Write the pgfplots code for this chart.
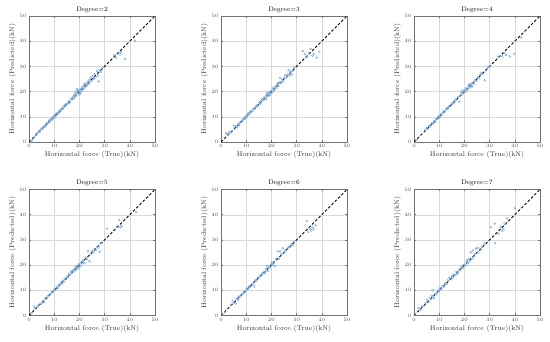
\documentclass[border=0pt]{standalone}
\usepackage{pgfplots}
\pgfplotsset{compat=1.18}
\definecolor{pt}{RGB}{110,160,210}
\pgfplotsset{
  deg/.style={
    scale only axis, width=126pt, height=126pt,
    xmin=0, xmax=50, ymin=0, ymax=50,
    xtick={0,10,...,50}, ytick={0,10,...,50},
    grid=major, grid style={black!15, line width=0.3pt},
    axis line style={black!55, line width=0.4pt},
    tick style={black!55, line width=0.4pt},
    tick align=inside, major tick length=2pt,
    ticklabel style={font=\fontsize{5.5}{6}\selectfont, text=black!70},
    xticklabel style={yshift=1pt},
    yticklabel style={xshift=1pt},
    label style={font=\fontsize{6.8}{7.5}\selectfont, text=black!80},
    title style={font=\fontsize{6.5}{7}\selectfont, yshift=-6pt},
    xlabel={Horizontal force (True)(kN)},
    ylabel={Horizontal force (Predicted)(kN)},
    xlabel style={yshift=3pt},
    ylabel style={yshift=-3pt},
  },
  pts/.style={only marks, mark=o, mark size=1.0pt, mark options={draw=pt, fill=pt, fill opacity=0.25, line width=0.35pt}},
  diag/.style={black, line width=1.0pt, dash pattern=on 2.6pt off 2pt},
}
\begin{document}
\begin{tikzpicture}
\useasboundingbox (0pt,0pt) rectangle (550pt,342pt);
% ---------------- Degree=2
\begin{axis}[deg, at={(29pt,200pt)}, anchor=south west, title={Degree=2}]
\addplot[pts] coordinates {(1.0,0.5)(1.5,1.2)(2.2,2.0)(2.8,3.0)(3.3,3.5)(3.9,4.2)(4.2,4.0)(4.6,4.9)(5.0,5.3)(5.4,5.1)(5.8,6.0)(6.1,6.4)(6.5,6.3)(6.9,7.1)(7.2,7.6)(7.5,7.3)(7.9,8.2)(8.3,8.0)(8.6,9.0)(9.0,9.2)(9.2,8.8)(9.5,9.9)(9.8,10.2)(10.1,9.7)(10.4,10.6)(10.8,11.0)(11.1,11.5)(11.5,11.2)(11.9,12.1)(12.3,12.6)(12.6,12.3)(13.0,13.3)(13.4,13.2)(13.8,14.1)(14.2,14.0)(14.6,14.9)(15.0,15.1)(15.5,15.3)(15.9,16.3)(16.3,16.0)(16.8,17.2)(17.2,16.9)(17.6,18.1)(18.0,18.6)(18.3,19.5)(18.6,18.2)(18.9,20.1)(19.2,19.4)(19.5,20.6)(19.7,18.9)(20.0,20.3)(20.2,19.6)(20.5,21.0)(20.8,20.2)(21.1,21.8)(21.4,20.9)(21.8,22.5)(22.2,21.7)(22.5,23.2)(22.9,22.4)(23.3,23.9)(23.6,23.0)(24.0,24.6)(24.4,25.5)(24.8,24.2)(25.2,26.1)(25.6,25.0)(26.0,26.8)(26.5,25.9)(27.0,28.1)(27.4,26.5)(27.6,24.0)(28.0,28.6)(28.5,27.8)(29.2,29.5)(33.8,34.5)(34.6,33.5)(35.5,35.4)(36.2,34.8)(36.6,35.8)(38.0,33.0)(42.0,40.2)(19.0,21.0)(20.3,19.0)(21.6,21.2)(17.9,17.4)(6.3,5.9)(8.1,8.6)(10.6,10.3)(12.1,11.8)(14.4,14.6)(16.1,15.6)(22.0,22.9)(23.9,23.4)(25.9,25.5)};
\addplot[diag] coordinates {(0,0)(50,50)};
\end{axis}
% ---------------- Degree=3
\begin{axis}[deg, at={(221pt,200pt)}, anchor=south west, title={Degree=3}]
\addplot[pts] coordinates {(2.0,3.5)(2.6,3.0)(3.2,3.9)(3.8,3.6)(4.5,4.3)(5.1,6.5)(5.5,5.2)(6.0,6.2)(6.4,5.9)(6.9,7.2)(7.3,7.0)(7.7,7.9)(8.2,8.1)(8.6,8.7)(9.0,9.3)(9.4,9.1)(9.8,10.1)(10.2,9.9)(10.5,10.8)(10.9,11.4)(11.3,11.0)(11.7,11.9)(12.1,12.4)(12.5,12.2)(12.9,13.1)(13.4,13.2)(13.8,14.0)(14.3,14.5)(14.7,14.3)(15.2,15.6)(15.6,15.2)(16.0,16.4)(16.4,17.0)(16.8,16.5)(17.2,17.7)(17.6,17.3)(18.0,18.6)(18.3,19.4)(18.7,18.2)(19.0,19.0)(19.4,18.6)(19.8,20.3)(20.1,19.6)(20.5,21.5)(20.8,20.2)(21.2,21.0)(21.6,22.0)(22.0,21.4)(22.4,22.9)(22.8,22.2)(23.2,23.6)(23.5,25.5)(23.9,23.4)(24.3,24.8)(24.7,24.1)(25.1,25.4)(25.5,26.5)(26.0,25.6)(26.4,26.7)(26.8,28.5)(27.2,26.4)(27.6,27.9)(28.0,26.8)(28.4,28.2)(29.0,29.4)(32.5,36.0)(33.4,34.8)(34.2,33.8)(35.0,35.2)(35.6,37.0)(36.3,34.3)(36.8,35.0)(38.0,33.5)(39.0,35.8)(17.9,17.0)(19.2,19.8)(21.0,20.6)(22.6,23.4)(7.0,6.6)(9.6,9.7)(11.5,11.7)(13.6,13.6)(15.4,15.5)(26.2,26.0)};
\addplot[diag] coordinates {(0,0)(50,50)};
\end{axis}
% ---------------- Degree=4
\begin{axis}[deg, at={(414pt,200pt)}, anchor=south west, title={Degree=4}]
\addplot[pts] coordinates {(1.0,0.8)(4.5,4.8)(5.0,5.5)(5.5,5.2)(6.0,6.3)(6.4,6.1)(6.8,7.0)(7.2,7.5)(7.6,7.3)(8.0,8.2)(8.4,8.0)(8.8,9.1)(9.2,9.0)(9.6,9.8)(10.0,10.3)(10.4,10.1)(10.8,11.1)(11.2,10.9)(11.6,11.8)(12.0,12.3)(12.4,12.1)(12.8,13.0)(13.2,13.5)(13.6,13.3)(14.0,14.2)(14.5,14.4)(15.0,15.3)(15.5,15.2)(16.0,16.1)(16.5,16.8)(17.0,16.7)(17.5,17.9)(18.0,16.0)(18.4,18.3)(18.8,19.5)(19.2,18.9)(19.6,19.8)(20.0,20.6)(20.4,20.0)(20.8,21.3)(21.2,20.8)(21.6,22.2)(22.0,21.6)(22.4,22.9)(22.8,22.3)(23.2,23.4)(23.7,23.1)(24.2,24.6)(24.7,24.3)(25.2,25.6)(25.7,25.3)(26.2,26.6)(26.7,27.3)(27.2,27.0)(28.0,24.5)(28.5,28.4)(29.5,29.8)(30.2,30.0)(33.5,33.8)(35.0,34.0)(35.8,35.3)(36.5,34.6)(38.0,34.0)(39.8,35.0)(42.5,41.5)(19.0,20.3)(21.9,22.8)(23.0,22.0)(7.9,7.8)(9.9,9.7)(11.9,11.9)(13.9,14.0)(15.9,15.7)};
\addplot[diag] coordinates {(0,0)(50,50)};
\end{axis}
% ---------------- Degree=5
\begin{axis}[deg, at={(29pt,26.5pt)}, anchor=south west, title={Degree=5}]
\addplot[pts] coordinates {(1.0,0.9)(2.0,3.5)(2.5,2.8)(3.2,3.4)(3.8,4.0)(4.4,4.6)(5.0,4.8)(5.5,5.6)(6.0,5.5)(6.5,6.8)(7.0,6.8)(7.5,7.7)(8.0,8.1)(8.5,8.4)(9.0,9.2)(9.5,9.4)(10.0,10.3)(10.5,10.2)(11.0,11.3)(11.4,11.0)(11.8,12.2)(12.2,12.0)(12.6,12.9)(13.0,12.6)(13.4,13.8)(13.8,13.4)(14.2,14.6)(14.6,14.3)(15.0,15.4)(15.5,15.1)(16.0,16.6)(16.4,16.1)(16.8,17.4)(17.2,16.9)(17.6,18.0)(18.0,17.5)(18.4,18.9)(18.8,18.2)(19.2,19.7)(19.6,18.8)(20.0,20.4)(20.4,19.6)(20.8,21.1)(21.2,20.7)(21.6,22.0)(22.0,20.8)(22.5,23.0)(23.0,22.4)(23.5,25.5)(24.0,21.5)(24.5,24.3)(25.0,25.6)(25.5,25.1)(26.0,26.3)(26.5,26.0)(27.0,27.3)(27.5,27.0)(28.0,25.3)(28.5,28.7)(31.0,34.5)(35.0,35.3)(35.8,37.8)(36.2,35.0)(36.7,35.4)(42.5,41.0)(17.0,17.5)(19.0,19.2)(21.4,21.6)(5.8,5.3)(12.9,13.1)(15.8,16.0)(18.6,19.4)};
\addplot[diag] coordinates {(0,0)(50,50)};
\end{axis}
% ---------------- Degree=6
\begin{axis}[deg, at={(221pt,26.5pt)}, anchor=south west, title={Degree=6}]
\addplot[pts] coordinates {(0.5,0.3)(1.5,1.3)(4.0,4.3)(4.6,5.6)(5.2,5.0)(5.8,4.8)(6.2,6.6)(6.7,6.3)(7.2,7.5)(7.7,7.6)(8.2,8.3)(8.7,8.5)(9.2,9.5)(9.7,9.6)(10.2,10.5)(10.7,10.4)(11.2,11.6)(11.7,11.4)(12.2,12.5)(12.7,12.3)(13.2,11.5)(13.6,13.9)(14.0,13.7)(14.5,14.8)(15.0,14.8)(15.5,15.8)(16.0,15.9)(16.5,16.7)(17.0,17.3)(17.5,16.8)(18.0,18.6)(18.3,19.5)(18.6,17.6)(19.0,19.3)(19.5,19.1)(20.0,20.3)(20.5,20.0)(21.0,21.3)(21.5,19.6)(22.0,22.3)(22.5,25.5)(23.0,22.6)(23.5,25.4)(24.0,24.2)(24.5,26.6)(25.0,24.8)(25.5,25.7)(26.0,26.2)(26.5,26.8)(27.0,27.2)(27.5,27.4)(28.0,28.2)(28.5,28.0)(29.0,29.3)(34.0,37.5)(34.6,33.2)(35.2,34.5)(35.8,33.8)(36.3,35.0)(36.8,34.2)(37.5,35.8)(18.0,17.8)(20.3,21.0)(16.2,16.3)(6.9,7.0)(9.0,9.0)(11.0,11.1)(13.0,13.2)(14.8,15.0)};
\addplot[diag] coordinates {(0,0)(50,50)};
\end{axis}
% ---------------- Degree=7
\begin{axis}[deg, at={(414pt,26.5pt)}, anchor=south west, title={Degree=7}]
\addplot[pts] coordinates {(0.3,0.4)(1.8,3.0)(2.5,2.2)(3.2,3.6)(4.0,3.8)(4.6,5.0)(5.2,6.2)(5.8,5.5)(6.3,6.8)(6.8,6.5)(7.3,10.0)(7.6,7.4)(8.0,6.9)(8.4,8.6)(8.9,8.4)(9.4,9.7)(9.9,9.6)(10.4,10.8)(10.9,10.5)(11.4,11.8)(11.9,11.5)(12.4,12.7)(12.9,12.5)(13.4,13.9)(13.9,15.0)(14.4,14.3)(14.9,15.4)(15.4,15.1)(15.9,16.2)(16.4,16.0)(16.9,17.3)(17.4,16.9)(17.9,18.2)(18.4,18.0)(18.9,19.3)(19.4,18.8)(19.9,20.2)(20.4,19.8)(20.9,21.3)(21.3,20.7)(21.7,22.3)(22.1,21.6)(22.5,25.0)(22.9,22.5)(23.3,25.8)(23.7,23.2)(24.1,24.4)(24.5,26.4)(25.0,26.8)(25.5,25.0)(26.0,26.5)(26.5,26.1)(27.0,27.3)(28.0,28.5)(30.5,35.0)(32.0,36.5)(32.2,28.7)(33.5,32.5)(34.5,35.0)(35.0,33.5)(35.5,34.3)(36.0,36.5)(37.0,38.5)(40.0,42.5)(19.2,19.6)(21.0,21.9)(17.0,16.6)(7.0,7.8)(10.1,10.2)(12.1,12.0)(15.2,15.8)};
\addplot[diag] coordinates {(0,0)(50,50)};
\end{axis}
\end{tikzpicture}
\end{document}
